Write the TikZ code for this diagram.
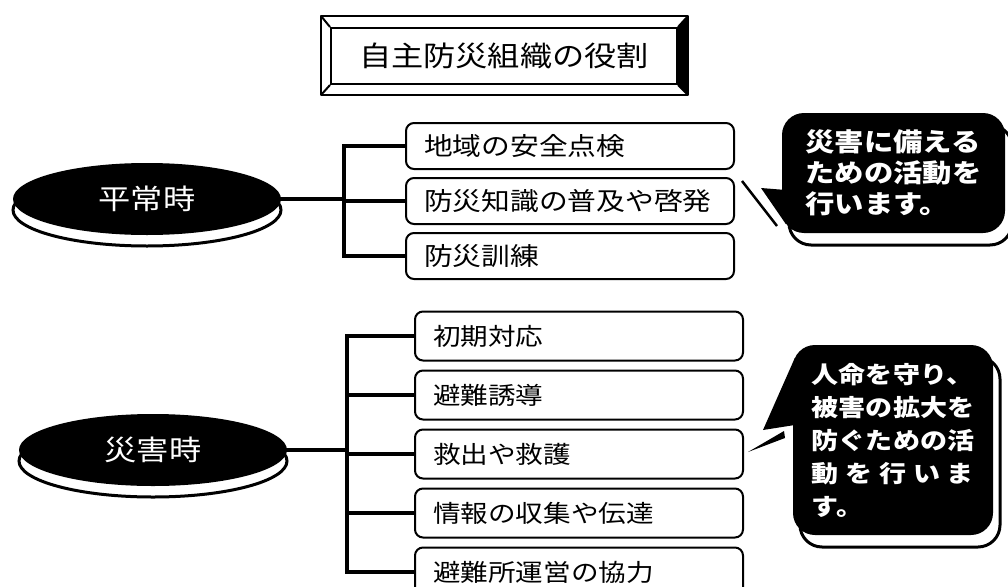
\documentclass[tikz,border=0pt]{standalone}
\usepackage{fontspec}
\setmainfont{Noto Sans CJK JP}[FakeStretch=1.15]
\usetikzlibrary{positioning, shapes.geometric, shadows, calc}
\definecolor{cink}{RGB}{0, 0, 0}
\tikzset{
  heading/.style={draw=cink, line width=2pt, minimum width=346pt, minimum height=56pt,
                  inner sep=0pt, font=\fontsize{28}{30}\selectfont},
  frame/.style={draw=cink, line width=2pt, line join=round},
  phase/.style={ellipse, fill=cink, text=white, inner sep=0pt, minimum width=268pt,
                minimum height=72pt, font=\fontsize{28}{30}\selectfont,
                drop shadow={shadow xshift=0pt, shadow yshift=-11pt, fill=white,
                             draw=cink, line width=3pt, opacity=1}},
  item/.style={draw=cink, line width=2pt, rounded corners=8pt, anchor=west, align=left,
               text width=292pt, inner xsep=18pt, inner ysep=0pt},
  link/.style={draw=cink, line width=4.5pt, line cap=rect},
  note/.style={fill=cink, text=white, rounded corners=22pt, align=left, inner sep=0pt,
               drop shadow={shadow xshift=7pt, shadow yshift=-12pt, fill=white,
                            draw=cink, line width=3pt, opacity=1}},
  tail/.style={fill=cink},
  tailedge/.style={draw=cink, line width=2.5pt},
}

\begin{document}
\begin{tikzpicture}[x=1pt, y=-1pt]
\useasboundingbox (0,0) rectangle (1008,586);

% ---------- title ----------
\node[heading] (title) at (504,56) {自主防災組織の役割};
\coordinate (fnw) at ($(title.north west)+(-9pt,11pt)$);
\coordinate (fne) at ($(title.north east)+(10pt,11pt)$);
\coordinate (fse) at ($(title.south east)+(10pt,-10pt)$);
\coordinate (fsw) at ($(title.south west)+(-9pt,-10pt)$);
\fill[cink] (fne) -- (fse) -- (title.south east) -- (title.north east) -- cycle;
\draw[frame] (fnw) -- (fne) -- (fse) -- (fsw) -- cycle;
\draw[frame] (fnw) -- (title.north west) (fne) -- (title.north east)
             (fse) -- (title.south east) (fsw) -- (title.south west);

% ---------- 平常時 ----------
\node[phase] (heijo) at (147,199) {平常時};

\node[item, minimum height=46pt, font=\fontsize{25}{27}\selectfont] (chiiki) at (405,146) {地域の安全点検};
\node[item, minimum height=46pt, font=\fontsize{25}{27}\selectfont, below=7pt of chiiki] (chishiki) {防災知識の普及や啓発};
\node[item, minimum height=46pt, font=\fontsize{25}{27}\selectfont, below=7pt of chishiki] (kunren) {防災訓練};

\coordinate (fork1) at ($(heijo.east)+(63pt,0pt)$);
\draw[link] (heijo.east) -- (fork1);
\draw[link] (fork1 |- chiiki.west) -- (fork1 |- kunren.west);
\foreach \b in {chiiki, chishiki, kunren}
  \draw[link] (fork1 |- \b.west) -- (\b.west);

% ---------- 災害時 ----------
\node[phase] (saigai) at (153,450) {災害時};

\node[item, minimum height=49pt, font=\fontsize{24}{26}\selectfont] (shoki) at (414,336) {初期対応};
\node[item, minimum height=49pt, font=\fontsize{24}{26}\selectfont, below=8pt of shoki] (yudo) {避難誘導};
\node[item, minimum height=49pt, font=\fontsize{24}{26}\selectfont, below=8pt of yudo] (kyushutsu) {救出や救護};
\node[item, minimum height=49pt, font=\fontsize{24}{26}\selectfont, below=8pt of kyushutsu] (joho) {情報の収集や伝達};
\node[item, minimum height=49pt, font=\fontsize{24}{26}\selectfont, below=8pt of joho] (unei) {避難所運営の協力};

\coordinate (fork2) at ($(saigai.east)+(60pt,0pt)$);
\draw[link] (saigai.east) -- (fork2);
\draw[link] (fork2 |- shoki.west) -- (fork2 |- unei.west);
\foreach \b in {shoki, yudo, kyushutsu, joho, unei}
  \draw[link] (fork2 |- \b.west) -- (\b.west);

% ---------- callouts ----------
\node[note, minimum width=223pt, minimum height=120pt,
      font=\bfseries\fontsize{25.5}{31}\selectfont] (note1) at (893.5,173)
  {災害に備える\\ための活動を\\行います。};
\coordinate (tip1) at (761,188);
\fill[tail] ($(note1.west)+(4pt,-17pt)$) -- (tip1) -- ($(note1.west)+(4pt,-51pt)$) -- cycle;
\draw[tailedge] ($(tip1)+(-19pt,7pt)$) -- ($(tip1)+(16pt,-38pt)$);

\node[note, minimum width=200pt, minimum height=190pt,
      font=\bfseries\fontsize{23.5}{33}\selectfont] (note2) at (893,440)
  {人命を守り、\\被害の拡大を\\防ぐための活\\\hbox to 162pt{動\hfill を\hfill 行\hfill い\hfill ま}\\す。};
\coordinate (tip2) at (763,430);
\fill[tail] ($(note2.west)+(2pt,82pt)$) -- (tip2) -- ($(note2.west)+(2pt,15pt)$) -- cycle;
\fill[tail] ($(tip2)+(-15pt,-22pt)$) -- ($(tip2)+(21pt,-1pt)$) -- ($(tip2)+(22pt,-8pt)$) -- cycle;

\end{tikzpicture}
\end{document}
